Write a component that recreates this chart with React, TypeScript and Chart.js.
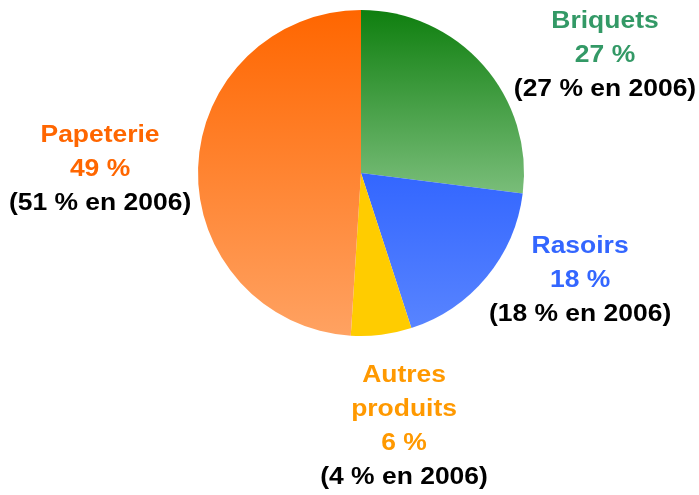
import React, { useEffect, useRef } from "react";
import { Chart, registerables } from "chart.js";

Chart.register(...registerables);

const categories = ["Briquets", "Rasoirs", "Autres produits", "Papeterie"];
const shares2007 = [27, 18, 6, 49];
const shares2006 = [27, 18, 4, 51];

const labelLines = [["Briquets"], ["Rasoirs"], ["Autres", "produits"], ["Papeterie"]];

const topColors = ["#0F7F0F", "#3366FF", "#FFCC00", "#FF6600"];
const bottomColors = ["#79BD79", "#5884FF", "#FFCC00", "#FFA262"];
const textColors = ["#339966", "#3366FF", "#FF9900", "#FF6600"];

// label anchor (first baseline) relative to pie center, in radius units
const labelAnchors = [
  [1.497, -0.89],
  [1.344, 0.491],
  [0.264, 1.282],
  [-1.601, -0.19],
];

const labelPlugin = {
  id: "sliceLabels",
  afterDraw(chart: any) {
    const meta = chart.getDatasetMeta(0);
    const arc = meta.data[0];
    if (!arc) return;
    const { x: cx, y: cy, outerRadius: r } = arc.getProps(["x", "y", "outerRadius"], true);
    const ctx = chart.ctx as CanvasRenderingContext2D;
    ctx.save();
    ctx.font = 'bold 23px "Liberation Sans", Arial, sans-serif';
    ctx.textAlign = "center";
    ctx.textBaseline = "alphabetic";
    const lh = 34;
    const stretch = 1.15;
    categories.forEach((_, i) => {
      const ax = cx + labelAnchors[i][0] * r;
      const ay = cy + labelAnchors[i][1] * r;
      const lines: { t: string; c: string }[] = [];
      labelLines[i].forEach((l) => lines.push({ t: l, c: textColors[i] }));
      lines.push({ t: `${shares2007[i]} %`, c: textColors[i] });
      lines.push({ t: `(${shares2006[i]} % en 2006)`, c: "#000000" });
      lines.forEach((ln, k) => {
        ctx.save();
        ctx.translate(ax, ay + k * lh);
        ctx.scale(stretch, 1);
        ctx.fillStyle = ln.c;
        ctx.fillText(ln.t, 0, 0);
        ctx.restore();
      });
    });
    ctx.restore();
  },
};

function sliceFill(c: any) {
  const i = c.dataIndex;
  const chart = c.chart;
  const area = chart.chartArea;
  if (!area) return topColors[i];
  const cx = (area.left + area.right) / 2;
  const cy = (area.top + area.bottom) / 2;
  const r = Math.min(area.right - area.left, area.bottom - area.top) / 2;
  const ctx = chart.ctx as CanvasRenderingContext2D;
  let y0 = cy - r;
  let y1 = cy + r;
  if (i === 0) {
    y0 = cy - r;
    y1 = cy + r * 0.12;
  } else if (i === 1) {
    y0 = cy;
    y1 = cy + r * 0.95;
  }
  const g = ctx.createLinearGradient(0, y0, 0, y1);
  g.addColorStop(0, topColors[i]);
  g.addColorStop(1, bottomColors[i]);
  return g;
}

export default function App() {
  const ref = useRef<HTMLCanvasElement>(null);
  useEffect(() => {
    document.body.style.margin = "0";
    const chart = new Chart(ref.current!, {
      type: "pie",
      data: {
        labels: categories,
        datasets: [
          {
            data: shares2007,
            backgroundColor: sliceFill as any,
            borderWidth: 0,
          },
        ],
      },
      options: {
        responsive: false,
        animation: false,
        layout: { padding: { left: 198, right: 175, top: 10, bottom: 159 } },
        plugins: { legend: { display: false }, tooltip: { enabled: false } },
      },
      plugins: [labelPlugin],
    });
    return () => chart.destroy();
  }, []);
  return (
    <div style={{ width: 699, height: 495, background: "#fff" }}>
      <canvas ref={ref} width={699} height={495} />
    </div>
  );
}
